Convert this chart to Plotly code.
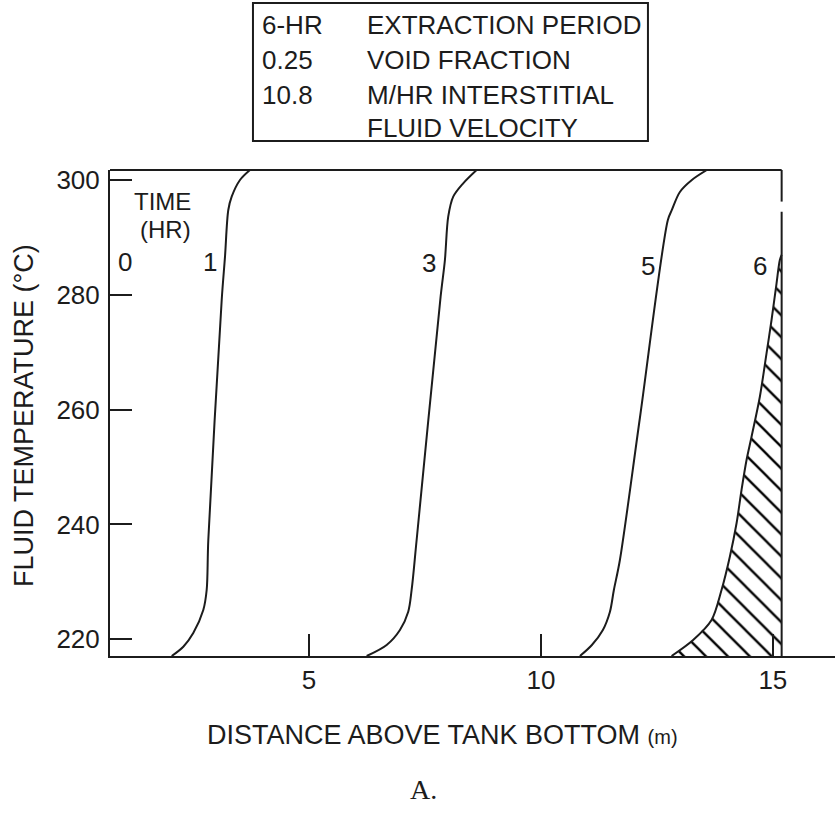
import plotly.graph_objects as go

# ---------------- data ----------------
# distance above tank bottom (m) / fluid temperature (deg C) for each time curve
X_1 = [2.041, 2.291, 2.506, 2.722, 2.795, 2.830, 3.119, 3.190, 3.261, 3.334, 3.513, 3.728]
T_1 = [217.07, 218.69, 221.08, 225.09, 228.58, 237.30, 279.15, 286.70, 294.84, 297.16, 300.07, 301.81]

X_3 = [6.244, 6.675, 6.961, 7.140, 7.213, 7.321, 7.838, 7.931, 8.002, 8.110, 8.325, 8.614]
T_3 = [217.07, 218.99, 221.60, 224.80, 228.58, 237.30, 279.72, 286.12, 293.67, 297.16, 299.49, 301.81]

X_5 = [10.841, 11.099, 11.336, 11.487, 11.573, 11.703, 12.134, 12.737, 12.823, 12.996, 13.254, 13.578]
T_5 = [217.07, 218.99, 221.60, 224.74, 228.58, 233.81, 258.57, 293.10, 294.84, 297.98, 300.07, 301.81]

X_6 = [12.817, 13.282, 13.679, 13.894, 14.073, 14.218, 14.325, 14.433, 14.541, 14.720, 14.864, 14.972, 15.080, 15.151, 15.19]
T_6 = [217.07, 219.86, 223.35, 228.58, 234.39, 240.21, 246.02, 251.25, 255.31, 262.28, 269.85, 275.66, 282.06, 286.12, 287.0]

TANK_TOP_M = 15.19           # tank height (right boundary)
X_RANGE = [0.711, 16.34]
Y_RANGE = [217.07, 301.81]

X_TICKS = [5, 10, 15]
X_TICK_LABELS = ["5", "10", "15"]
Y_TICKS = [220, 240, 260, 280, 300]
Y_TICK_LABELS = ["220", "240", "260", "280", "300"]

# curve time labels: (text, x, T)
TIME_LABELS = [("0", 1.034, 285.77), ("1", 2.866, 285.77), ("3", 7.586, 285.6),
               ("5", 12.306, 285.07), ("6", 14.72, 285.07)]
TIME_HEADER = [("TIME", 1.853, 296.4), ("(HR)", 1.918, 291.5)]

INFO_LEFT = ["6-HR", "0.25", "10.8", ""]
INFO_RIGHT = ["EXTRACTION PERIOD", "VOID FRACTION", "M/HR INTERSTITIAL", "FLUID VELOCITY"]

INK = "#1c1c1c"
FONT = "Liberation Sans, Arial, sans-serif"

# ---------------- figure ----------------
fig = go.Figure()

# hatched region (heat remaining at end of 6 h)
fig.add_trace(go.Scatter(
    x=X_6 + [TANK_TOP_M, X_6[0]],
    y=T_6 + [Y_RANGE[0], Y_RANGE[0]],
    mode="lines", fill="toself", line=dict(width=0, color=INK),
    fillcolor="white",
    fillpattern=dict(shape="\\", fgcolor="#000000", bgcolor="white", fgopacity=1,
                     fillmode="replace", size=15.5, solidity=0.15),
    hoverinfo="skip", showlegend=False))

for xs, ts in [(X_1, T_1), (X_3, T_3), (X_5, T_5), (X_6, T_6)]:
    fig.add_trace(go.Scatter(x=xs, y=ts, mode="lines", line=dict(color=INK, width=2, shape="spline", smoothing=0.9),
                             hoverinfo="skip", showlegend=False))

shapes = [
    # top border up to the tank top
    dict(type="line", xref="x", yref="paper", x0=X_RANGE[0], x1=TANK_TOP_M, y0=1, y1=1,
         line=dict(color=INK, width=2)),
    # tank top boundary (with small gap near the top)
    dict(type="line", xref="x", yref="paper", x0=TANK_TOP_M, x1=TANK_TOP_M, y0=0, y1=0.914,
         line=dict(color=INK, width=2)),
    dict(type="line", xref="x", yref="paper", x0=TANK_TOP_M, x1=TANK_TOP_M, y0=0.935, y1=1,
         line=dict(color=INK, width=2)),
    # info box
    dict(type="rect", xref="paper", yref="paper", x0=0.1972, x1=0.742, y0=1.0597, y1=1.3437,
         line=dict(color=INK, width=2)),
]

annotations = []
for txt, x, t in TIME_LABELS:
    annotations.append(dict(text=txt, x=x, y=t, xref="x", yref="y", showarrow=False,
                            xanchor="center", yanchor="middle",
                            font=dict(size=26, color=INK, family=FONT)))
for txt, x, t in TIME_HEADER:
    annotations.append(dict(text=txt, x=x, y=t, xref="x", yref="y", showarrow=False,
                            xanchor="center", yanchor="middle",
                            font=dict(size=24, color=INK, family=FONT)))

row_y = [1.2984, 1.2263, 1.1543, 1.0864]
for ly, lt, rt in zip(row_y, INFO_LEFT, INFO_RIGHT):
    if lt:
        annotations.append(dict(text=lt, x=0.2069, y=ly, xref="paper", yref="paper", xanchor="left",
                                yanchor="middle", showarrow=False, font=dict(size=26, color=INK, family=FONT)))
    annotations.append(dict(text=rt, x=0.3517, y=ly, xref="paper", yref="paper", xanchor="left",
                            yanchor="middle", showarrow=False, font=dict(size=26, color=INK, family=FONT)))

annotations.append(dict(text="FLUID TEMPERATURE (°C)", x=-0.1186, y=0.4938, xref="paper", yref="paper",
                        xanchor="center", yanchor="middle",
                        textangle=-90, showarrow=False, font=dict(size=27, color=INK, family=FONT)))
annotations.append(dict(text="DISTANCE ABOVE TANK BOTTOM <span style='font-size:20px'>(m)</span>",
                        x=0.131, y=-0.1626, xref="paper", yref="paper", xanchor="left", yanchor="middle",
                        showarrow=False, font=dict(size=27, color=INK, family=FONT)))
annotations.append(dict(text="A.", x=0.4331, y=-0.2757, xref="paper", yref="paper", showarrow=False,
                        xanchor="center", yanchor="middle",
                        font=dict(size=28, color=INK, family="Liberation Serif, Times New Roman, serif")))

fig.update_layout(
    width=835, height=813,
    margin=dict(l=110, r=0, t=170, b=157, pad=0),
    paper_bgcolor="white", plot_bgcolor="white",
    shapes=shapes, annotations=annotations,
    xaxis=dict(range=X_RANGE, tickvals=X_TICKS, ticktext=X_TICK_LABELS, ticks="inside", ticklen=22,
               tickwidth=2, tickcolor=INK, showline=True, linecolor=INK, linewidth=2, showgrid=False,
               zeroline=False, tickfont=dict(size=26, color=INK, family=FONT), ticklabelstandoff=0,
               fixedrange=True),
    yaxis=dict(range=Y_RANGE, tickvals=Y_TICKS, ticktext=Y_TICK_LABELS, ticks="inside", ticklen=22,
               tickwidth=2, tickcolor=INK, showline=True, linecolor=INK, linewidth=2, showgrid=False,
               zeroline=False, tickfont=dict(size=26, color=INK, family=FONT), ticklabelstandoff=3,
               fixedrange=True),
)

fig.write_html("out.html", config={"displayModeBar": False, "staticPlot": True},
               post_script="document.body.style.margin='0';")
